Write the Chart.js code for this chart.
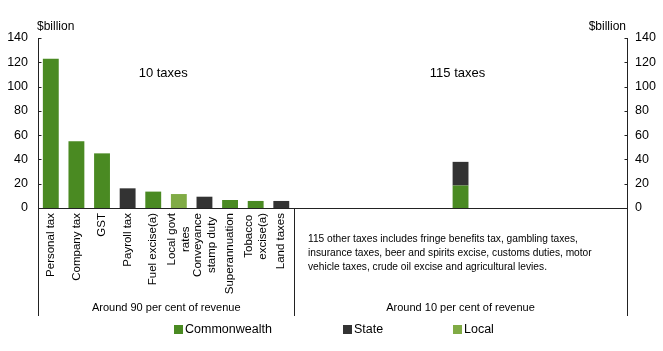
<!DOCTYPE html>
<html>
<head>
<meta charset="utf-8">
<script src="https://cdn.jsdelivr.net/npm/chart.js@4.4.1/dist/chart.umd.min.js"></script>
<style>
  html, body { margin: 0; padding: 0; background: #ffffff; }
  #wrap { position: relative; width: 663px; height: 351px; }
</style>
</head>
<body>
<div id="wrap"><canvas id="c" width="663" height="351"></canvas></div>
<script>
// ---- data ----
const namedTaxes = ['Personal tax', 'Company tax', 'GST', 'Payroll tax', 'Fuel excise(a)',
  ['Local govt', 'rates'], ['Conveyance', 'stamp duty'], 'Superannuation', ['Tobacco', 'excise(a)'], 'Land taxes'];
const otherSlots = ['', '', '', '', '', '', '', '', '', '', '', '', ''];
const commonwealth = [123, 55, 45, null, 13.5, null, null, 6.6, 5.8, null,
  null, null, null, null, null, null, 18.5, null, null, null, null, null, null];
const state = [null, null, null, 16.2, null, null, 9.3, null, null, 5.8,
  null, null, null, null, null, null, 19.5, null, null, null, null, null, null];
const local = [null, null, null, null, null, 11.5, null, null, null, null,
  null, null, null, null, null, null, null, null, null, null, null, null, null];
const seriesNames = ['Commonwealth', 'State', 'Local'];
const yTicks = [0, 20, 40, 60, 80, 100, 120, 140];
const sectionTitles = ['10 taxes', '115 taxes'];
const sectionCaptions = ['Around 90 per cent of revenue', 'Around 10 per cent of revenue'];
const otherNote = ['115 other taxes includes fringe benefits tax, gambling taxes,',
  'insurance taxes, beer and spirits excise, customs duties, motor',
  'vehicle taxes, crude oil excise and agricultural levies.'];
const unitLabel = '$billion';

const labels = namedTaxes.concat(otherSlots);
const colors = ['#4a8a22', '#333333', '#80ab45'];
const FONT = '"Liberation Sans", Arial, sans-serif';

const decor = {
  id: 'decor',
  afterDraw(chart) {
    const ctx = chart.ctx;
    const a = chart.chartArea;
    const x = chart.scales.x, y = chart.scales.y;
    const bottomExt = 316;
    const divX = Math.round((x.getPixelForValue(9) + x.getPixelForValue(10)) / 2) + 0.5;
    ctx.save();
    ctx.strokeStyle = '#222';
    ctx.lineWidth = 1;
    ctx.beginPath();
    const L = Math.round(a.left) + 0.5, R = Math.round(a.right) + 0.5, B = Math.round(a.bottom) + 0.5;
    ctx.moveTo(L, Math.round(a.top)); ctx.lineTo(L, bottomExt);
    ctx.moveTo(R, Math.round(a.top)); ctx.lineTo(R, bottomExt);
    ctx.moveTo(L, B); ctx.lineTo(R, B);
    ctx.moveTo(divX, B); ctx.lineTo(divX, bottomExt);
    yTicks.forEach(v => {
      const py = Math.round(y.getPixelForValue(v)) + 0.5;
      ctx.moveTo(L, py); ctx.lineTo(L + 3, py);
      ctx.moveTo(R, py); ctx.lineTo(R - 3, py);
    });
    ctx.stroke();

    ctx.fillStyle = '#000';
    ctx.textBaseline = 'middle';

    // category labels, rotated, drawn at the x scale's pixel positions
    ctx.font = '11.5px ' + FONT;
    const lh = 14;
    chart.data.labels.forEach((lab, i) => {
      const lines = Array.isArray(lab) ? lab : [lab];
      if (!lines.join('')) return;
      const px = x.getPixelForValue(i);
      const w = Math.max(...lines.map(t => ctx.measureText(t).width));
      const top = a.bottom + 5;
      lines.forEach((t, j) => {
        const cx = px + (j - (lines.length - 1) / 2) * lh;
        ctx.save();
        ctx.translate(cx, top + w / 2);
        ctx.rotate(-Math.PI / 2);
        ctx.textAlign = 'center';
        ctx.fillText(t, 0, 0);
        ctx.restore();
      });
    });

    ctx.font = '12px ' + FONT;
    ctx.textAlign = 'left';
    ctx.fillText(unitLabel, a.left - 1, 27);
    ctx.textAlign = 'right';
    ctx.fillText(unitLabel, a.right - 1, 27);

    ctx.font = '13px ' + FONT;
    ctx.textAlign = 'center';
    const leftMid = (a.left + divX) / 2;
    ctx.fillText(sectionTitles[0], leftMid - 3, 73);
    ctx.fillText(sectionTitles[1], x.getPixelForValue(16) - 3, 73);

    ctx.font = '11px ' + FONT;
    ctx.fillText(sectionCaptions[0], leftMid, 308);
    ctx.fillText(sectionCaptions[1], x.getPixelForValue(16), 308);

    ctx.font = '10.2px ' + FONT;
    ctx.textAlign = 'left';
    otherNote.forEach((t, i) => ctx.fillText(t, 308, 239 + i * 14));

    // legend
    const legX = [174, 343, 453];
    ctx.font = '12.5px ' + FONT;
    chart.data.datasets.forEach((ds, i) => {
      ctx.fillStyle = ds.backgroundColor;
      ctx.fillRect(legX[i], 325, 9, 9);
      ctx.fillStyle = '#000';
      ctx.fillText(ds.label, legX[i] + 11, 330);
    });
    ctx.restore();
  }
};

new Chart(document.getElementById('c'), {
  type: 'bar',
  data: {
    labels: labels,
    datasets: [
      { label: seriesNames[0], data: commonwealth, backgroundColor: colors[0] },
      { label: seriesNames[1], data: state, backgroundColor: colors[1] },
      { label: seriesNames[2], data: local, backgroundColor: colors[2] }
    ]
  },
  options: {
    responsive: false,
    animation: false,
    devicePixelRatio: 1,
    layout: { padding: { top: 38, left: 0, right: 0, bottom: 0 } },
    datasets: { bar: { categoryPercentage: 1, barPercentage: 0.62 } },
    plugins: { legend: { display: false }, tooltip: { enabled: false } },
    scales: {
      x: {
        stacked: true,
        grid: { display: false, drawTicks: false },
        border: { display: false },
        ticks: { display: false },
        afterFit(s) { s.height = 143; s.paddingLeft = 0; s.paddingRight = 0; }
      },
      y: {
        stacked: true, position: 'left', min: 0, max: 140,
        grid: { display: false, drawTicks: false },
        border: { display: false },
        ticks: { stepSize: 20, padding: 10, color: '#000', font: { family: FONT, size: 12.5 } },
        afterFit(s) { s.width = 38; }
      },
      y2: {
        position: 'right', min: 0, max: 140,
        grid: { display: false, drawTicks: false },
        border: { display: false },
        ticks: { stepSize: 20, padding: 8, color: '#000', font: { family: FONT, size: 12.5 } },
        afterFit(s) { s.width = 36; }
      }
    }
  },
  plugins: [decor]
});
</script>
</body>
</html>
